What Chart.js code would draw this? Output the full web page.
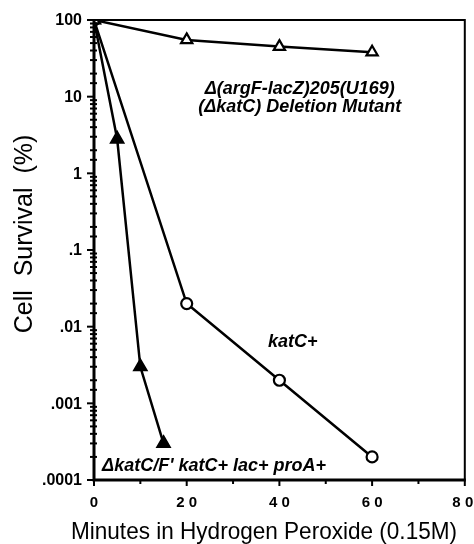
<!DOCTYPE html>
<html>
<head>
<meta charset="utf-8">
<script src="https://cdn.jsdelivr.net/npm/chart.js@4.4.0/dist/chart.umd.min.js"></script>
<style>
  html, body { margin: 0; padding: 0; background: #fff; }
  #wrap { width: 474px; height: 544px; position: relative; }
</style>
</head>
<body>
<div id="wrap"><canvas id="chart"></canvas></div>
<script>
// --- Data ---
const minutes = [0, 20, 40, 60];
const deletionMutant = [100, 55, 45, 38];          // open triangles
const katCPlus = [100, 0.02, 0.002, 0.0002];       // open circles
const fMinutes = [0, 5, 10, 15];
const fPrimeKatC = [100, 2.8, 0.003, 0.0003];      // filled triangles

const yTickValues = [100, 10, 1, 0.1, 0.01, 0.001, 0.0001];
const yTickLabels = ["100", "10", "1", ".1", ".01", ".001", ".0001"];
const xTickLabels = ["0", "20", "40", "60", "80"];

const annotations = [
    { x: 44.4, y: 12.6, text: "\u0394(argF-lacZ)205(U169)" },
    { x: 44.4, y: 7.3, text: "(\u0394katC) Deletion Mutant" },
    { x: 42.9, y: 0.0063, text: "katC+" },
    { x: 25.9, y: 0.000152, text: "\u0394katC/F' katC+ lac+ proA+" },
];

const FONT = "'Liberation Sans', Arial, Helvetica, sans-serif";

function toPoints(xs, ys) {
    return xs.map((x, i) => ({ x: x, y: ys[i] }));
}

// --- Frame, ticks and labels drawn on the library scales ---
const framePlugin = {
    id: "frame",
    afterDraw(chart) {
        const c = chart.ctx;
        const a = chart.chartArea;
        const xs = chart.scales.x;
        const ys = chart.scales.y;
        c.save();
        c.strokeStyle = "#000";
        // top & right border
        c.lineWidth = 2;
        c.beginPath();
        c.moveTo(a.left, a.top);
        c.lineTo(a.right, a.top);
        c.lineTo(a.right, a.bottom);
        c.stroke();
        // left & bottom axes
        c.lineWidth = 3;
        c.beginPath();
        c.moveTo(a.left, a.top - 1);
        c.lineTo(a.left, a.bottom);
        c.lineTo(a.right + 1, a.bottom);
        c.stroke();

        // y ticks (major + log minor)
        c.lineWidth = 2;
        ys.ticks.forEach((t) => {
            const py = ys.getPixelForValue(t.value);
            const major = yTickValues.some((v) => Math.abs(v - t.value) / v < 1e-6);
            c.beginPath();
            if (major) {
                c.moveTo(a.left - 7, py);
                c.lineTo(a.left + 1, py);
            } else {
                c.moveTo(a.left - 4, py);
                c.lineTo(a.left + 3, py);
            }
            c.stroke();
        });
        // x ticks every 10
        for (let v = 0; v <= 80; v += 10) {
            const px = xs.getPixelForValue(v);
            c.beginPath();
            c.moveTo(px, a.bottom);
            c.lineTo(px, a.bottom + (v % 20 === 0 ? 6 : 4));
            c.stroke();
        }

        // y tick labels
        c.fillStyle = "#000";
        c.font = "bold 16px " + FONT;
        c.textAlign = "right";
        c.textBaseline = "middle";
        yTickValues.forEach((v, i) => {
            c.fillText(yTickLabels[i], a.left - 12, ys.getPixelForValue(v) + 1);
        });
        // x tick labels
        c.font = "bold 15px " + FONT;
        c.textAlign = "center";
        xTickLabels.forEach((lab) => {
            const v = parseFloat(lab);
            c.fillText(lab.split("").join(" "), xs.getPixelForValue(v) + (v === 80 ? -2 : 0), a.bottom + 23);
        });

        // axis titles
        c.font = "24px " + FONT;
        c.fillText("Minutes in Hydrogen Peroxide (0.15M)", 264, a.bottom + 52, 386);
        c.font = "25px " + FONT;
        c.translate(25, 234);
        c.rotate(-Math.PI / 2);
        c.fillText("Cell  Survival  (%)", 0, 0);
        c.restore();

        // annotations
        c.save();
        c.fillStyle = "#000";
        c.font = "italic bold 18px " + FONT;
        c.textAlign = "center";
        c.textBaseline = "middle";
        annotations.forEach((n) => {
            c.fillText(n.text, xs.getPixelForValue(n.x), ys.getPixelForValue(n.y));
        });
        c.restore();
    },
};

const common = {
    borderColor: "#000",
    borderWidth: 2.5,
    pointBorderColor: "#000",
    pointBorderWidth: 2.2,
    showLine: true,
    tension: 0,
};

new Chart(document.getElementById("chart"), {
    type: "scatter",
    data: {
        datasets: [
            Object.assign({}, common, {
                label: "deletion",
                data: toPoints(minutes, deletionMutant),
                pointStyle: "triangle",
                pointRadius: 6.5,
                pointBackgroundColor: "#fff",
            }),
            Object.assign({}, common, {
                label: "katC+",
                data: toPoints(minutes, katCPlus),
                pointStyle: "circle",
                pointRadius: 5.5,
                pointBackgroundColor: "#fff",
            }),
            Object.assign({}, common, {
                label: "F' katC+",
                data: toPoints(fMinutes, fPrimeKatC),
                pointStyle: "triangle",
                pointRadius: 7,
                pointBackgroundColor: "#000",
            }),
        ],
    },
    options: {
        responsive: true,
        maintainAspectRatio: false,
        animation: false,
        events: [],
        layout: { padding: { top: 20, right: 9, left: 0, bottom: 0 } },
        plugins: {
            legend: { display: false },
            tooltip: { enabled: false },
        },
        scales: {
            x: {
                type: "linear",
                min: 0,
                max: 80,
                ticks: { display: false, stepSize: 10 },
                grid: { display: false },
                border: { display: false },
                afterFit(scale) { scale.height = 64; },
            },
            y: {
                type: "logarithmic",
                min: 0.0001,
                max: 100,
                ticks: { display: false },
                grid: { display: false },
                border: { display: false },
                afterFit(scale) { scale.width = 94; },
            },
        },
    },
    plugins: [framePlugin],
});
</script>
</body>
</html>
